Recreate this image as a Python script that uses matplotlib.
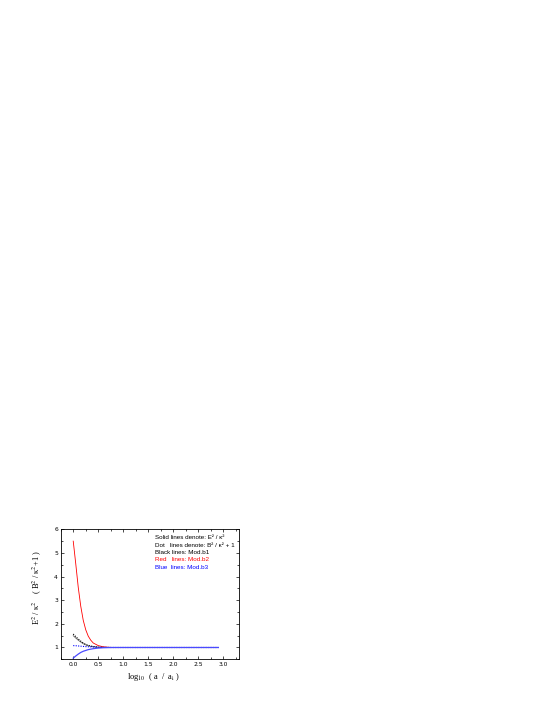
import matplotlib
matplotlib.use("Agg")
import matplotlib.pyplot as plt
from matplotlib.ticker import MultipleLocator

plt.rcParams['mathtext.fontset'] = 'stix'

# Data (x = log10(a/a_i))
x_red = [0.0, 0.05, 0.1, 0.15, 0.2, 0.25, 0.3, 0.35, 0.4, 0.5, 0.6, 0.7, 0.8, 1.0, 2.9]
red_solid = [5.5, 4.55, 3.55, 2.75, 2.15, 1.75, 1.48, 1.31, 1.19, 1.08, 1.03, 1.01, 1.0, 1.0, 1.0]

x_black = [0.0, 0.05, 0.1, 0.15, 0.2, 0.25, 0.3, 0.4, 0.5, 0.6, 0.8, 2.9]
black_dot = [1.57, 1.46, 1.36, 1.27, 1.19, 1.13, 1.09, 1.04, 1.015, 1.005, 1.0, 1.0]
black_solid = [1.5, 1.4, 1.31, 1.23, 1.16, 1.11, 1.07, 1.03, 1.01, 1.0, 1.0, 1.0]

x_blue = [0.0, 0.05, 0.1, 0.15, 0.2, 0.3, 0.4, 0.5, 0.6, 0.8, 2.9]
blue_solid = [0.55, 0.64, 0.72, 0.79, 0.84, 0.91, 0.95, 0.975, 0.99, 1.0, 1.0]
blue_dot = [1.08, 1.075, 1.065, 1.055, 1.045, 1.03, 1.02, 1.01, 1.005, 1.0, 1.0]

legend_lines = [("Solid lines denote: E² / κ²", "black"),
                ("Dot   lines denote: B² / κ² + 1", "black"),
                ("Black lines: Mod.b1", "black"),
                ("Red   lines: Mod.b2", "red"),
                ("Blue  lines: Mod.b3", "blue")]

fig = plt.figure(figsize=(5.45, 7.05), dpi=100)
ax = fig.add_axes([0.1114, 0.0648, 0.327, 0.1844])

ax.plot(x_red, red_solid, color='red', lw=0.6)
ax.plot(x_black, black_solid, color='0.4', lw=0.6)
ax.plot(x_black, black_dot, color='black', lw=0.8, ls=(0, (1, 1.2)))
ax.plot(x_blue, blue_dot, color='blue', lw=0.8, ls=(0, (1, 1.2)))
ax.plot(x_blue, blue_solid, color='#4a4aff', lw=0.9)

ax.set_xlim(-0.25, 3.31)
ax.set_ylim(0.5, 6.0)
ax.xaxis.set_major_locator(MultipleLocator(0.5))
ax.xaxis.set_minor_locator(MultipleLocator(0.25))
ax.yaxis.set_major_locator(MultipleLocator(1))
ax.yaxis.set_minor_locator(MultipleLocator(0.5))
ax.set_yticks([1, 2, 3, 4, 5, 6])
ax.set_yticklabels(['1', '2', '3', '4', '5', '6'])
ax.set_xticks([0.0, 0.5, 1.0, 1.5, 2.0, 2.5, 3.0])
ax.set_xticklabels(['0.0', '0.5', '1.0', '1.5', '2.0', '2.5', '3.0'])

ax.tick_params(which='both', direction='in', top=True, right=True, width=0.5,
               labelsize=4.3, pad=2)
ax.tick_params(which='major', length=2.5)
ax.tick_params(which='minor', length=1.3)
for s in ax.spines.values():
    s.set_linewidth(0.6)

ax.set_xlabel("log$_{10}$  ( a  /  a$_{\\rm i}$ )", fontsize=6, family='Liberation Serif')
ax.set_ylabel("E$^2$ / κ$^2$    ( B$^2$ / κ$^2$+1 )", fontsize=6, family='Liberation Serif')
ax.xaxis.set_label_coords(0.52, -0.09)
ax.yaxis.set_label_coords(-0.094, 0.555)

y0 = 0.935
for i, (t, c) in enumerate(legend_lines):
    ax.text(0.528, y0 - i * 0.057, t, transform=ax.transAxes, color=c,
            fontsize=4.5, family=['Liberation Sans', 'DejaVu Sans'], va='center', ha='left')

fig.savefig("out.png", dpi=100)
